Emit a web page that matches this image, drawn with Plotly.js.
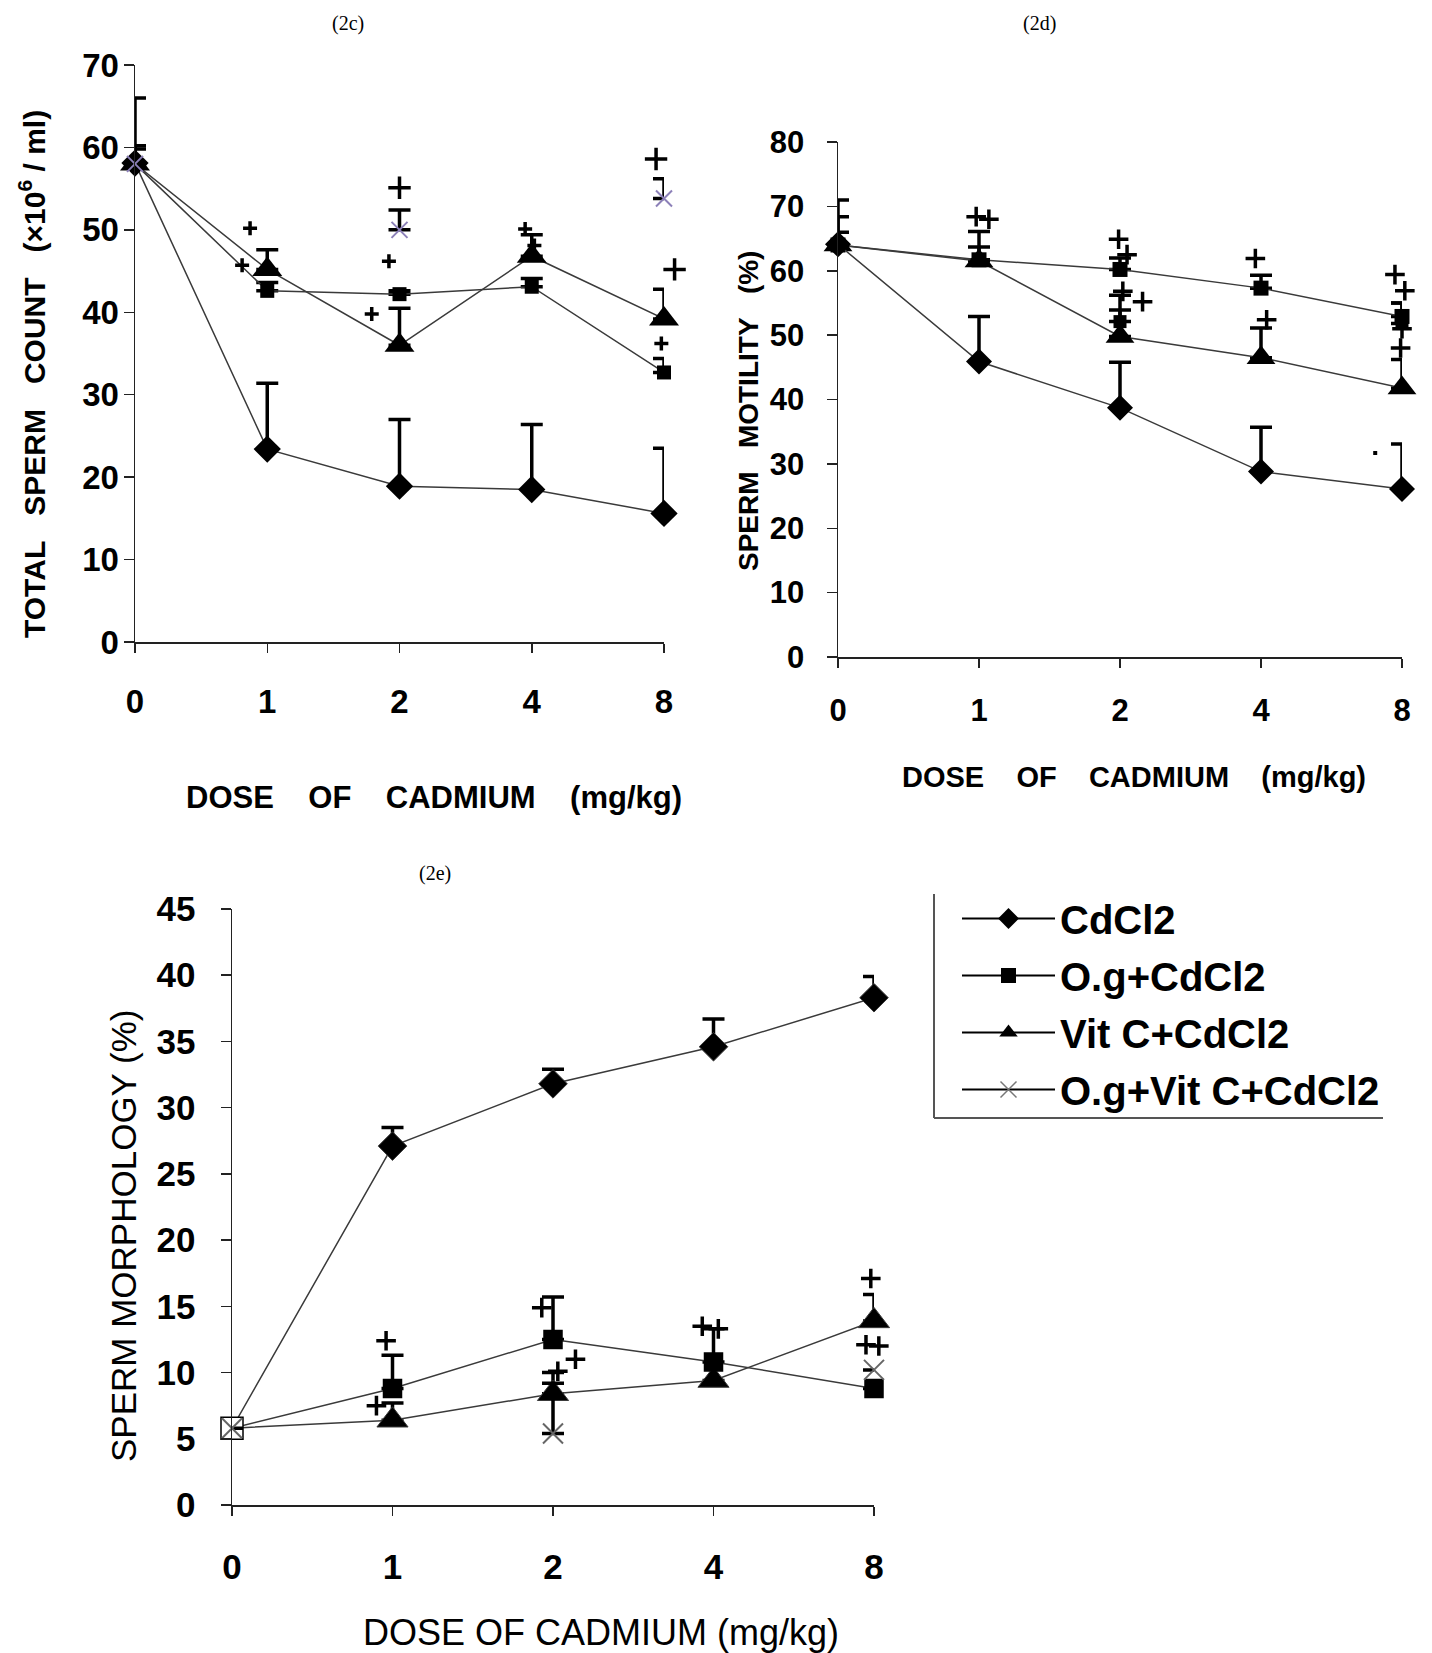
<!DOCTYPE html>
<html>
<head>
<meta charset="utf-8">
<script src="https://cdn.plot.ly/plotly-3.0.1.min.js"></script>
<style>html,body{margin:0;padding:0;background:#fff;} #chart{width:1432px;height:1653px;}</style>
</head>
<body>
<div id="chart"></div>
<script>
// ---------- DATA ----------
const doses = ['0', '1', '2', '4', '8'];
const seriesNames = ['CdCl2', 'O.g+CdCl2', 'Vit C+CdCl2', 'O.g+Vit C+CdCl2'];

// (2c) total sperm count (x10^6 / ml)
const countCd      = [58.1, 23.4, 18.9, 18.5, 15.6];
const countCdErr   = [7.9, 8.0, 8.1, 7.9, 7.9];
const countOg      = [58.0, 42.6, 42.2, 43.1, 32.7];
const countOgErr   = [2.2, 1.0, 0.4, 1.0, 1.7];
const countVit     = [58.0, 45.2, 36.0, 46.8, 39.2];
const countVitErr  = [1.8, 2.4, 4.5, 2.6, 3.6];
const countOgVit   = [58.0, null, 50.0, null, 53.8];
const countOgVitErr= [0, null, 2.4, null, 2.4];
const countPlusX   = [0.87, 0.81, 2.0, 1.92, 1.79, 2.95, 3.02, 3.94, 4.08, 3.98];
const countPlusY   = [50.2, 45.7, 55.1, 46.2, 39.8, 50.1, 48.1, 58.6, 45.2, 36.2];
const countPlusBig = [0, 0, 1, 0, 0, 0, 0, 1, 1, 0];

// (2d) sperm motility (%)
const motCd        = [64.1, 45.9, 38.7, 28.8, 26.1];
const motCdErr     = [6.9, 7.0, 7.1, 6.9, 7.0];
const motOg        = [64.0, 61.7, 60.2, 57.3, 52.9];
const motOgErr     = [4.4, 2.0, 1.8, 2.0, 2.1];
const motVit       = [64.0, 61.5, 49.8, 46.5, 41.8];
const motVitErr    = [2.0, 4.6, 4.1, 4.6, 4.4];
const motOgVit     = [64.0, null, 52.1, null, 51.8];
const motOgVitErr  = [0, null, 4.1, null, 3.2];
const motPlusX     = [0.98, 1.07, 1.99, 2.05, 2.02, 2.16, 2.96, 3.04, 3.95, 4.02, 4.0, 3.99];
const motPlusY     = [68.4, 68.0, 64.9, 62.5, 56.8, 55.2, 61.9, 52.4, 59.4, 56.9, 51.0, 48.0];
const motDotX      = [3.81];
const motDotY      = [31.7];

// (2e) sperm morphology (%)
const morphCd       = [5.8, 27.1, 31.8, 34.6, 38.3];
const morphCdErr    = [0, 1.4, 1.1, 2.1, 1.6];
const morphOg       = [5.8, 8.8, 12.5, 10.8, 8.8];
const morphOgErr    = [0, 2.5, 3.2, 2.5, 0];
const morphVit      = [5.8, 6.4, 8.4, 9.4, 13.9];
const morphVitErr   = [0, 1.3, 1.6, 0, 2.0];
const morphOgVit    = [5.8, null, 5.4, null, 10.2];
const morphOgVitErr = [0, null, 3.8, null, 0];
const morphPlusX    = [0.96, 0.90, 1.93, 2.03, 2.14, 2.93, 3.03, 3.98, 3.95, 4.03];
const morphPlusY    = [12.4, 7.5, 14.9, 10.1, 11.0, 13.5, 13.3, 17.1, 12.1, 12.0];

// ---------- STYLE / BUILD ----------
const W = 1432, H = 1653;
const px = v => v / W;
const py = v => (H - v) / H;
const pos = doses.map((d, i) => i);
const FONT = 'Liberation Sans, Arial, sans-serif';
const LINE = '#3a3a3a';

function err(arr) {
  return {type: 'data', symmetric: false, array: arr, arrayminus: arr.map(() => 0),
          color: '#000', thickness: 3.5, width: 11, visible: true};
}
function series(xa, ya, y, e, m, mode) {
  return {
    type: 'scatter', mode: mode || 'lines+markers', x: pos, y: y,
    xaxis: xa, yaxis: ya, line: {color: LINE, width: 1.5},
    marker: Object.assign({opacity: 1}, m), error_y: err(e), showlegend: false,
    cliponaxis: false, hoverinfo: 'skip'
  };
}
function pluses(xa, ya, xs, ys, big) {
  return {type: 'scatter', mode: 'markers', x: xs, y: ys, xaxis: xa, yaxis: ya,
    marker: {symbol: 'cross-thin-open', color: '#000', opacity: 1,
             size: big ? big.map(b => b ? 16 : 10) : 14,
             line: {color: '#000', width: 3.5}},
    showlegend: false, cliponaxis: false, hoverinfo: 'skip'};
}
const dia = s => ({symbol: 'diamond', size: s, color: '#000'});
const tri = s => ({symbol: 'triangle-up', size: s, color: '#000'});
const sq  = s => ({symbol: 'square', size: s, color: '#000'});

const traces = [
  // 2c
  series('x', 'y', countOg, countOgErr, sq(14)),
  series('x', 'y', countVit, countVitErr, tri(26)),
  series('x', 'y', countCd, countCdErr, dia(21)),
  series('x', 'y', countOgVit, countOgVitErr,
    {symbol: 'x-thin-open', size: 16, color: '#8c80b8', line: {color: '#8c80b8', width: 2}}, 'markers'),
  pluses('x4', 'y', countPlusX, countPlusY, countPlusBig),
  // 2d
  series('x2', 'y2', motOg, motOgErr, sq(15)),
  series('x2', 'y2', motVit, motVitErr, tri(25)),
  series('x2', 'y2', motCd, motCdErr, dia(20)),
  series('x2', 'y2', motOgVit, motOgVitErr, sq(13), 'markers'),
  pluses('x5', 'y2', motPlusX, motPlusY, null),
  {type: 'scatter', mode: 'markers', x: motDotX, y: motDotY, xaxis: 'x5', yaxis: 'y2',
   marker: {symbol: 'square', size: 4, color: '#000'}, showlegend: false, hoverinfo: 'skip'},
  // 2e
  series('x3', 'y3', morphCd, morphCdErr, {symbol: 'diamond', size: [0, 22, 22, 22, 22], color: '#000'}),
  series('x3', 'y3', morphVit, morphVitErr, {symbol: 'triangle-up', size: [0, 27, 27, 27, 27], color: '#000'}),
  series('x3', 'y3', morphOg, morphOgErr,
    {symbol: 'square', size: [22, 18, 18, 18, 18], color: ['#fff', '#000', '#000', '#000', '#000'],
     line: {color: '#000', width: 1.5}}),
  series('x3', 'y3', morphOgVit, morphOgVitErr,
    {symbol: 'x-thin-open', size: 20, color: '#666', line: {color: '#666', width: 2}}, 'markers'),
  pluses('x6', 'y3', morphPlusX, morphPlusY, null),
];

// legend-only entries
const legMarkers = [
  {symbol: 'diamond', size: 16, color: '#000'},
  {symbol: 'square', size: 15, color: '#000'},
  {symbol: 'triangle-up', size: 18, color: '#000'},
  {symbol: 'x-thin-open', size: 16, color: '#777', line: {color: '#777', width: 1.5}},
];
seriesNames.forEach((n, i) => traces.push({
  type: 'scatter', mode: 'lines+markers', x: [null], y: [null], xaxis: 'x3', yaxis: 'y3',
  name: n, legendgroup: 'g' + i, line: {color: '#000', width: 2}, marker: legMarkers[i], showlegend: true
}));

function xax(domain, anchor, size, standoff) {
  return {domain: domain, anchor: anchor, range: [0, 4], tickvals: pos, ticktext: doses, showgrid: false,
    zeroline: false, showline: true, linecolor: '#222', linewidth: 1.5, ticks: 'outside',
    ticklen: 9, tickwidth: 1.5, tickcolor: '#222', ticklabelstandoff: standoff,
    tickfont: {family: FONT, size: size, color: '#000', weight: 'bold'}, fixedrange: true};
}
// invisible companion axis with the same scale but a slightly wider span (for marks just past the last dose)
function xaxWide(x0, x1, anchor) {
  const step = (x1 - x0) / 4, pad = 0.2;
  return {domain: [px(x0 - step * pad), px(x1 + step * pad)], anchor: anchor, range: [-pad, 4 + pad],
    visible: false, fixedrange: true};
}
function yax(domain, max, step, anchor, size, standoff) {
  return {domain: domain, range: [0, max], dtick: step, tick0: 0, showgrid: false,
    zeroline: false, showline: true, linecolor: '#222', linewidth: 1.5, ticks: 'outside',
    ticklen: 10, tickwidth: 1.5, tickcolor: '#222', ticklabelstandoff: standoff,
    tickfont: {family: FONT, size: size, color: '#000', weight: 'bold'}, anchor: anchor, fixedrange: true};
}

const nb = '\u00a0';
const gap = n => nb.repeat(n - 1) + ' ';
function ann(text, x, y, size, weight, extra) {
  return Object.assign({text: text, xref: 'paper', yref: 'paper', x: px(x), y: py(y),
    xanchor: 'center', yanchor: 'middle', showarrow: false,
    font: {family: FONT, size: size, color: '#000', weight: weight}}, extra || {});
}
const SERIF = {family: 'Liberation Serif, Times New Roman, serif', size: 20, color: '#000'};

const layout = {
  width: W, height: H, margin: {l: 0, r: 0, t: 0, b: 0},
  paper_bgcolor: '#fff', plot_bgcolor: 'rgba(0,0,0,0)',
  xaxis: xax([px(135), px(664)], 'y', 33, 21),
  yaxis: yax([py(642), py(65)], 70, 10, 'x', 33, -2),
  xaxis2: xax([px(838), px(1402)], 'y2', 31, 16),
  yaxis2: yax([py(657), py(142)], 80, 10, 'x2', 31, 16),
  xaxis3: xax([px(232), px(874)], 'y3', 35, 21),
  yaxis3: yax([py(1505), py(909)], 45, 5, 'x3', 35, 18),
  xaxis4: xaxWide(135, 664, 'y'),
  xaxis5: xaxWide(838, 1402, 'y2'),
  xaxis6: xaxWide(232, 874, 'y3'),
  showlegend: true,
  legend: {x: px(957), y: py(886), xanchor: 'left', yanchor: 'top', bgcolor: 'rgba(0,0,0,0)',
    borderwidth: 0, itemwidth: 93, tracegroupgap: 2,
    font: {family: FONT, size: 40, color: '#000', weight: 'bold'}},
  shapes: [
    {type: 'line', xref: 'paper', yref: 'paper', x0: px(934), x1: px(934), y0: py(894), y1: py(1118),
     line: {color: '#555', width: 2}},
    {type: 'line', xref: 'paper', yref: 'paper', x0: px(934), x1: px(1383), y0: py(1118), y1: py(1118),
     line: {color: '#555', width: 2}},
  ],
  annotations: [
    ann('(2c)', 348, 23, 20, 'normal', {font: SERIF}),
    ann('(2d)', 1039, 23, 20, 'normal', {font: SERIF}),
    ann('(2e)', 435, 873, 20, 'normal', {font: SERIF}),
    ann('DOSE' + gap(4) + 'OF' + gap(4) + 'CADMIUM' + gap(4) + '(mg/kg)', 434, 798, 31, 'bold'),
    ann('DOSE' + gap(4) + 'OF' + gap(4) + 'CADMIUM' + gap(4) + '(mg/kg)', 1134, 777, 29, 'bold'),
    ann('DOSE OF CADMIUM (mg/kg)', 601, 1632, 36, 'normal'),
    ann('TOTAL' + gap(3) + 'SPERM' + gap(3) + 'COUNT' + gap(3) + '(×10<sup>6</sup> / ml)', 32, 374, 30, 'bold', {textangle: -90}),
    ann('SPERM' + gap(3) + 'MOTILITY' + gap(3) + '(%)', 749, 411, 28, 'bold', {textangle: -90}),
    ann('SPERM MORPHOLOGY (%)', 123, 1236, 35, 'normal', {textangle: -90}),
  ]
};

Plotly.newPlot('chart', traces, layout, {staticPlot: true, displayModeBar: false});
</script>
</body>
</html>
